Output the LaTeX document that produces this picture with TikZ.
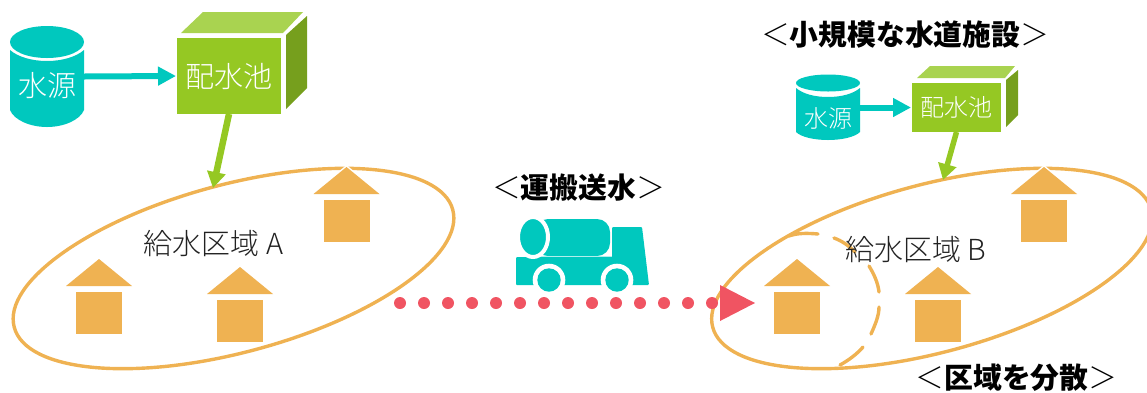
\documentclass[tikz,border=0pt]{standalone}
\usepackage{fontspec}
\setmainfont{Noto Sans CJK JP}
\newfontfamily\lightjp{Noto Sans CJK JP Light}
\usetikzlibrary{arrows.meta,shapes.geometric}
\definecolor{teal1}{HTML}{00C8BE}
\definecolor{gfront}{HTML}{95C823}
\definecolor{gtop}{HTML}{A9D350}
\definecolor{gside}{HTML}{769F1D}
\definecolor{zone}{HTML}{EFB252}
\definecolor{red1}{HTML}{F05462}
\definecolor{ink}{HTML}{222222}
\tikzset{
  x=1pt,y=-1pt,
  zonestyle/.style={draw=zone,line width=3.4pt,ellipse,rotate=15,minimum width=454pt,minimum height=168pt,inner sep=0pt},
  anchorbox/.style={inner sep=0pt,outer sep=0pt,draw=none},
  boxbig/.style={fill=gfront,inner sep=0pt,outer sep=0pt,minimum width=104pt,minimum height=76pt,text=white,font=\lightjp\fontsize{29}{31}\selectfont},
  boxsmall/.style={fill=gfront,inner sep=0pt,outer sep=0pt,minimum width=89pt,minimum height=49pt,text=white,font=\lightjp\fontsize{24}{26}\selectfont},
  whitebig/.style={text=white,inner sep=0pt,font=\lightjp\fontsize{29}{31}\selectfont},
  whitesmall/.style={text=white,inner sep=0pt,font=\lightjp\fontsize{24}{26}\selectfont},
  zonelabel/.style={text=ink,inner sep=0pt,font=\lightjp\fontsize{29}{31}\selectfont},
  heading/.style={text=black,inner sep=0pt,font=\fontsize{28.8}{31}\selectfont\bfseries},
  tealarrow/.style={draw=teal1,line width=6pt,-{Triangle[length=18pt,width=18pt]}},
  greenarrow/.style={draw=gfront,line width=6.5pt,-{Triangle[length=16pt,width=18pt]}},
  greenarrowsmall/.style={draw=gfront,line width=5.5pt,-{Triangle[length=16pt,width=18pt]}},
  houseback/.style={draw=white,line width=3pt},
  dashseg/.style={draw=zone,line width=3.4pt,line cap=round},
}
\newcommand{\lt}{{\mdseries\lightjp ＜}}
\newcommand{\gt}{{\mdseries\lightjp ＞}}
\begin{document}
\begin{tikzpicture}
\useasboundingbox (0,0) rectangle (1147,392);
% zones
\node[zonestyle] (zoneA) at (233.5,268.5) {};
\node[zonestyle] (zoneB) at (932,268.5) {};
% inner dashed region of zone B
\draw[dashseg] (789,236) .. controls (797,233) and (807,233) .. (818,234);
\draw[dashseg] (834,238) .. controls (842,241) and (848,245) .. (855,252);
\draw[dashseg] (869,266) .. controls (874,274) and (878,283) .. (879,292);
\draw[dashseg] (879,307) .. controls (879,316) and (875,325) .. (871,334);
\draw[dashseg] (863,347) .. controls (857,354) and (849,360) .. (840,365);
% houses
\foreach \hx/\hy in {346.5/167,99/259,240/267,1044/167,797/259,938/267}{
  \draw[houseback] (\hx,\hy) -- (\hx+33,\hy+27) -- (\hx-33,\hy+27) -- cycle;
  \draw[houseback] (\hx-23,\hy+33) rectangle (\hx+23,\hy+75);
  \fill[zone] (\hx,\hy) -- (\hx+33,\hy+27) -- (\hx-33,\hy+27) -- cycle;
  \fill[zone] (\hx-23,\hy+33) rectangle (\hx+23,\hy+75);
}
% source A
\fill[teal1] (10,50) .. controls (18,57) and (32,61) .. (47,61) .. controls (62,61) and (76,57) .. (84,50)
  -- (84,110) .. controls (80,120) and (64,127) .. (47,127) .. controls (30,127) and (14,120) .. (10,110) -- cycle;
\fill[teal1] (47,42) ellipse [x radius=37,y radius=16];
\node[anchorbox,minimum width=74pt,minimum height=101pt] (srcA) at (47,76.5) {};
\node[whitebig] (srcAtext) at (47,85.5) {水源};
% tank A
\fill[gtop] (181,33) -- (283,33) -- (303,12) -- (203,12) -- cycle;
\fill[gside] (286,35) -- (307,16) -- (307,88) -- (286,109) -- cycle;
\node[boxbig] (boxA) at (229,76) {配水池};
\draw[tealarrow,shorten >=1pt] (srcA.east) -- (boxA.west);
\coordinate (zoneAin) at (213,188);
\draw[greenarrow] (boxA.south) -- (zoneAin);
% source B
\fill[teal1] (796,88) .. controls (803,94) and (815,97) .. (828,97) .. controls (841,97) and (853,94) .. (860,88)
  -- (860,132) .. controls (855,137) and (842,140) .. (828,140) .. controls (814,140) and (801,137) .. (796,132) -- cycle;
\fill[teal1] (828,83) ellipse [x radius=32,y radius=8.5];
\node[anchorbox,minimum width=64pt,minimum height=65pt] (srcB) at (828,107.5) {};
\node[whitesmall] (srcBtext) at (828,118) {水源};
% tank B
\fill[gtop] (917,78) -- (1005,78) -- (1015,66) -- (930,66) -- cycle;
\fill[gside] (1006,80) -- (1018,70) -- (1018,115) -- (1006,127) -- cycle;
\node[boxsmall] (boxB) at (956.5,107.5) {配水池};
\draw[tealarrow,shorten >=1pt] (srcB.east) -- (boxB.west);
\coordinate (zoneBin) at (943,180);
\draw[greenarrowsmall] (boxB.south) -- (zoneBin);
% labels
\node[zonelabel] (labA) at (213.5,243) {給水区域 A};
\node[zonelabel] (labB) at (915.5,249) {給水区域 B};
\node[heading] (headSmall) at (905,35) {\lt 小規模な水道施設\gt};
\node[heading] (headTruck) at (578.5,188) {\lt 運搬送水\gt};
\node[heading] (headSpread) at (1016.5,378) {\lt 区域を分散\gt};
% truck
\fill[teal1,rounded corners=1pt] (516,257) -- (612,257) -- (612,227) -- (642,227) -- (649,285) -- (516,285) -- cycle;
\fill[teal1,rounded corners=13pt] (535,219) -- (610,219) -- (610,256) -- (535,256) -- cycle;
\fill[white!70!teal1] (530,256) rectangle (612,257);
\fill[teal1,draw=white,line width=4pt] (533,237) ellipse [x radius=15,y radius=20];
\fill[white] (549,280) circle [radius=16.3];
\fill[white] (617,280) circle [radius=16.3];
\fill[teal1] (549,280) circle [radius=11.7];
\fill[teal1] (617,280) circle [radius=11.7];
% transport route
\coordinate (routeS) at (400,303);
\coordinate (routeE) at (713,303);
\draw[red1,line width=12pt,line cap=round,dash pattern=on 0pt off 24pt] (routeS) -- (routeE);
\fill[red1] (720,285) -- (755,303) -- (720,321) -- cycle;
\end{tikzpicture}
\end{document}
